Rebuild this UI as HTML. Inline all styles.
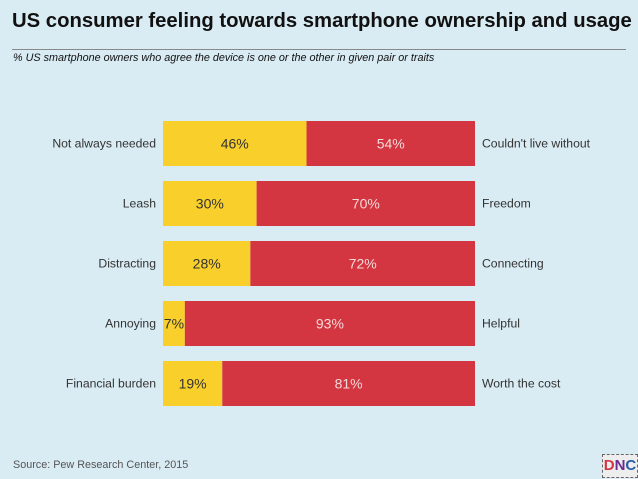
<!DOCTYPE html>
<html><head><meta charset="utf-8"><style>
body{margin:0;width:638px;height:479px;background:#d9ebf3;font-family:"Liberation Sans",sans-serif;position:relative;overflow:hidden}
.t{position:absolute;left:12px;top:10px;font-size:20.3px;font-weight:bold;color:#111;white-space:nowrap}
.ln{position:absolute;left:12px;top:49px;width:614px;height:1px;background:#888}
.s{position:absolute;left:13px;top:52px;font-size:10.8px;font-style:italic;color:#111;white-space:nowrap}
.src{position:absolute;left:13px;top:459px;font-size:10.8px;color:#555}
.logo{position:absolute;left:602px;top:454px;width:34px;height:22px;border:1px dashed #666;font-weight:bold;font-size:15px;text-align:center;line-height:22px;background:#eee}
</style></head><body>
<div class="t">US consumer feeling towards smartphone ownership and usage</div>
<div class="ln"></div>
<div class="s">% US smartphone owners who agree the device is one or the other in given pair or traits</div>
<svg width="638" height="479" style="position:absolute;left:0;top:0" id="chart"></svg>
<div class="src">Source: Pew Research Center, 2015</div>
<div class="logo"><span style="color:#d33640">D</span><span style="color:#6a2c8f">N</span><span style="color:#2a5ba8">C</span></div>
<script>
const leftLabels=["Not always needed","Leash","Distracting","Annoying","Financial burden"];
const rightLabels=["Couldn't live without","Freedom","Connecting","Helpful","Worth the cost"];
const leftValues=[46,30,28,7,19];
const rightValues=[54,70,72,93,81];
const svg=document.getElementById('chart');
const NS="http://www.w3.org/2000/svg";
const x0=163,W=312,y0=121,pitch=60,bh=45;
const xs=v=>x0+v/100*W;
function mk(tag,attrs,name){const e=document.createElementNS(NS,tag);for(const k in attrs)e.setAttribute(k,attrs[k]);


svg.appendChild(e);return e;}
leftLabels.forEach((l,i)=>{
 const y=y0+i*pitch, tot=leftValues[i]+rightValues[i];
 const lw=xs(leftValues[i]/tot*100)-x0;
 mk('rect',{x:x0,y:y,width:lw,height:bh,fill:'#f9cf2c'},'bar-left-'+i);
 mk('rect',{x:x0+lw,y:y,width:W-lw,height:bh,fill:'#d33640'},'bar-right-'+i);
 const cy=y+bh/2+5;
 let t=mk('text',{x:x0+lw/2,y:cy,'text-anchor':'middle','font-size':14,fill:'#333'},'value-left-'+i);t.textContent=leftValues[i]+'%';
 t=mk('text',{x:x0+lw+(W-lw)/2,y:cy,'text-anchor':'middle','font-size':14,fill:'#f3d9d9'},'value-right-'+i);t.textContent=rightValues[i]+'%';
 t=mk('text',{x:156,y:cy-1,'text-anchor':'end','font-size':12.2,fill:'#333'},'label-left-'+i);t.textContent=l;
 t=mk('text',{x:482,y:cy-1,'font-size':12.2,fill:'#333'},'label-right-'+i);t.textContent=rightLabels[i];
});
</script>
</body></html>
